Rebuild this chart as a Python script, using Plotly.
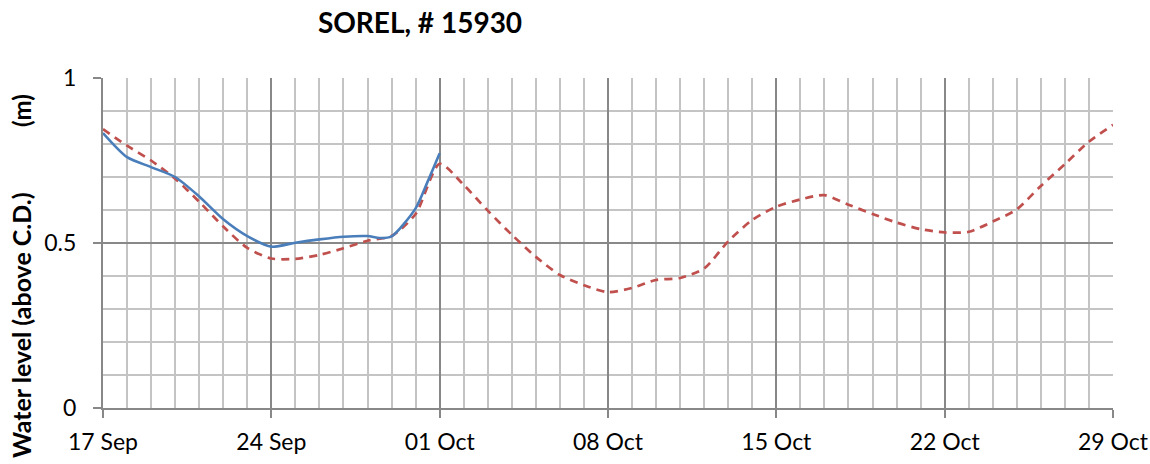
import plotly.graph_objects as go
import pandas as pd

title_text = "SOREL, # 15930"
y_title_main = "Water level (above C.D.)"
y_title_unit = "(m)"

# Predicted (red dashed), daily from 17 Sep to 29 Oct
pred_dates = pd.date_range("2014-09-17", "2014-10-29", freq="D")
pred_values = [0.845, 0.795, 0.750, 0.695, 0.625, 0.550, 0.485, 0.453, 0.452, 0.464,
               0.484, 0.507, 0.521, 0.588, 0.740, 0.676, 0.598, 0.525, 0.458, 0.403,
               0.372, 0.351, 0.364, 0.388, 0.394, 0.423, 0.505, 0.570, 0.610, 0.632,
               0.645, 0.616, 0.588, 0.562, 0.542, 0.532, 0.534, 0.565, 0.602, 0.673,
               0.739, 0.807, 0.858]

# Observed (blue solid)
obs_dates = ["2014-09-17", "2014-09-18", "2014-09-19", "2014-09-20", "2014-09-21",
             "2014-09-22", "2014-09-23", "2014-09-24", "2014-09-25", "2014-09-26",
             "2014-09-27", "2014-09-28", "2014-09-28 12:00", "2014-09-29", "2014-09-30",
             "2014-09-30 12:00", "2014-10-01"]
obs_values = [0.833, 0.760, 0.730, 0.700, 0.641, 0.572, 0.521, 0.489, 0.501, 0.511,
              0.519, 0.521, 0.515, 0.520, 0.605, 0.686, 0.772]

x_tick_start = "2014-09-17"
x_range = ["2014-09-17", "2014-10-29"]
y_ticks = [0, 0.5, 1]

fig = go.Figure()
fig.add_trace(go.Scatter(x=pred_dates, y=pred_values, mode="lines",
                         line=dict(color="#c0504d", width=2.7, dash="8px,6px",
                                   shape="spline", smoothing=0.7),
                         showlegend=False))
fig.add_trace(go.Scatter(x=obs_dates, y=obs_values, mode="lines",
                         line=dict(color="#4a7ebb", width=2.6, shape="spline", smoothing=0.7),
                         showlegend=False))

font_family = "Lato, 'Open Sans', sans-serif"

fig.update_layout(
    width=1150, height=464,
    margin=dict(l=103, r=37, t=78, b=56),
    paper_bgcolor="white", plot_bgcolor="white",
    font=dict(family=font_family, color="black", size=23),
    title=dict(text="<b>" + title_text + "</b>", x=420 / 1150, xanchor="center",
               y=1 - 23 / 464, yanchor="middle", font=dict(size=28, family=font_family)),
)

fig.update_xaxes(
    type="date", range=x_range, tick0=x_tick_start, dtick=7 * 86400000,
    tickformat="%d %b", ticks="outside", ticklen=8, tickwidth=2, tickcolor="#888888",
    showgrid=True, gridcolor="#888888", gridwidth=2,
    minor=dict(dtick=86400000, tick0=x_tick_start, showgrid=True, gridcolor="#c4c4c4", gridwidth=2),
    showline=True, linecolor="#888888", linewidth=2,
    tickfont=dict(size=23), ticklabelstandoff=4, zeroline=False, automargin=False,
)
fig.update_yaxes(
    range=[0, 1], tickvals=y_ticks, ticktext=["0", "0.5", "1"],
    ticks="outside", ticklen=8, tickwidth=2, tickcolor="#888888",
    showgrid=True, gridcolor="#888888", gridwidth=2,
    minor=dict(dtick=0.1, tick0=0, showgrid=True, gridcolor="#c4c4c4", gridwidth=2),
    showline=True, linecolor="#888888", linewidth=2,
    tickfont=dict(size=23), ticklabelstandoff=12, zeroline=False, automargin=False,
)

# y-axis title split in two parts, as in the reference
fig.add_annotation(text="<b>" + y_title_main + "</b>", textangle=-90,
                   xref="paper", yref="paper", x=(21 - 103) / 1010, y=(408 - 325) / 330,
                   xanchor="center", yanchor="middle", showarrow=False,
                   font=dict(size=25, family=font_family))
fig.add_annotation(text="<b>" + y_title_unit + "</b>", textangle=-90,
                   xref="paper", yref="paper", x=(21 - 103) / 1010, y=(408 - 111) / 330,
                   xanchor="center", yanchor="middle", showarrow=False,
                   font=dict(size=24, family=font_family))

fig.write_html("out.html", config={"displayModeBar": False},
               post_script="document.body.style.margin='0px';")
